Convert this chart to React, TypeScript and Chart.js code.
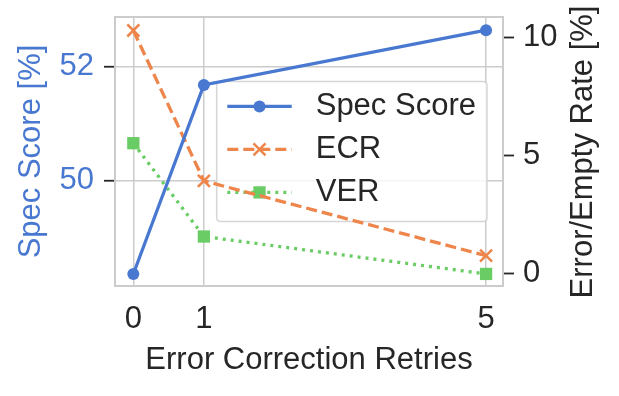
import React, { useEffect, useRef } from "react";
import { Chart, registerables } from "chart.js";
import { drawPoint } from "chart.js/helpers";

Chart.register(...registerables);

// ---- data ----
const retries = [0, 1, 5];
const specScore = [48.37, 51.68, 52.64];
const ecr = [10.28, 3.93, 0.77];
const ver = [5.52, 1.58, 0.0];
const xTickValues = [0, 1, 5];
const leftTickValues = [50, 52];
const rightTickValues = [0, 5, 10];

const BLUE = "#4878d0";
const ORANGE = "#ee854a";
const GREEN = "#6acc64";
const TEXT = "#262626";
const GRID = "#cccccc";
const FONT = "'Liberation Sans', Arial, Helvetica, sans-serif";
const FS = 31;

const zeroPadding = (s: any) => {
  s.paddingTop = 0;
  s.paddingBottom = 0;
  s.paddingLeft = 0;
  s.paddingRight = 0;
};

const framePlugin = {
  id: "frameAndLegend",
  beforeDatasetsDraw(chart: any) {
    const { ctx, chartArea: a } = chart;
    ctx.save();
    // plot frame
    ctx.strokeStyle = GRID;
    ctx.lineWidth = 2;
    ctx.strokeRect(a.left, a.top, a.right - a.left, a.bottom - a.top);

    // legend box
    const bx = a.left + 101.7;
    const by = a.top + 64.4;
    const bw = a.right - 16 - bx;
    const bh = 140;
    const r = 4;
    ctx.beginPath();
    ctx.moveTo(bx + r, by);
    ctx.lineTo(bx + bw - r, by);
    ctx.quadraticCurveTo(bx + bw, by, bx + bw, by + r);
    ctx.lineTo(bx + bw, by + bh - r);
    ctx.quadraticCurveTo(bx + bw, by + bh, bx + bw - r, by + bh);
    ctx.lineTo(bx + r, by + bh);
    ctx.quadraticCurveTo(bx, by + bh, bx, by + bh - r);
    ctx.lineTo(bx, by + r);
    ctx.quadraticCurveTo(bx, by, bx + r, by);
    ctx.closePath();
    ctx.fillStyle = "rgba(255,255,255,0.8)";
    ctx.fill();
    ctx.strokeStyle = "rgba(204,204,204,0.8)";
    ctx.lineWidth = 1.5;
    ctx.stroke();

    const datasets = chart.data.datasets;
    datasets.forEach((ds: any, i: number) => {
      const y = by + 25 + i * 43;
      const x0 = bx + 10.6;
      const x1 = bx + 75;
      ctx.save();
      ctx.beginPath();
      ctx.setLineDash(ds.borderDash || []);
      ctx.strokeStyle = ds.borderColor;
      ctx.lineWidth = ds.borderWidth;
      ctx.lineCap = "butt";
      ctx.moveTo(x0, y);
      ctx.lineTo(x1, y);
      ctx.stroke();
      ctx.setLineDash([]);
      ctx.fillStyle = ds.pointBackgroundColor;
      ctx.strokeStyle = ds.pointBorderColor;
      ctx.lineWidth = ds.pointBorderWidth;
      drawPoint(
        ctx,
        { pointStyle: ds.pointStyle, radius: ds.pointRadius, borderWidth: ds.pointBorderWidth, rotation: 0 } as any,
        (x0 + x1) / 2,
        y
      );
      ctx.restore();
      ctx.fillStyle = TEXT;
      ctx.font = `${FS}px ${FONT}`;
      ctx.textAlign = "left";
      ctx.textBaseline = "middle";
      ctx.fillText(ds.label, bx + 99, y);
    });
    ctx.restore();
  },
  afterDraw(chart: any) {
    const { ctx, chartArea: a } = chart;
    ctx.save();
    ctx.translate(583.5, (a.top + a.bottom) / 2 + 0.5);
    ctx.rotate(-Math.PI / 2);
    ctx.fillStyle = TEXT;
    ctx.font = `${FS}px ${FONT}`;
    ctx.textAlign = "center";
    ctx.textBaseline = "middle";
    ctx.fillText("Error/Empty Rate [%]", 0, 0);
    ctx.restore();
  },
};

export default function App() {
  const canvasRef = useRef<HTMLCanvasElement | null>(null);

  useEffect(() => {
    const canvas = canvasRef.current;
    if (!canvas) return;
    Chart.defaults.font.family = FONT;
    const chart = new Chart(canvas, {
      type: "line",
      data: {
        datasets: [
          {
            label: "Spec Score",
            data: retries.map((x, i) => ({ x, y: specScore[i] })),
            yAxisID: "y",
            borderColor: BLUE,
            backgroundColor: BLUE,
            borderWidth: 3.3,
            pointStyle: "circle",
            pointRadius: 6,
            pointBorderWidth: 0,
            pointBackgroundColor: BLUE,
            pointBorderColor: BLUE,
            tension: 0,
          },
          {
            label: "ECR",
            data: retries.map((x, i) => ({ x, y: ecr[i] })),
            yAxisID: "y1",
            borderColor: ORANGE,
            backgroundColor: ORANGE,
            borderWidth: 3.3,
            borderDash: [11, 5],
            pointStyle: "crossRot",
            pointRadius: 8.5,
            pointBorderWidth: 2.5,
            pointBackgroundColor: ORANGE,
            pointBorderColor: ORANGE,
            tension: 0,
          },
          {
            label: "VER",
            data: retries.map((x, i) => ({ x, y: ver[i] })),
            yAxisID: "y1",
            borderColor: GREEN,
            backgroundColor: GREEN,
            borderWidth: 3.3,
            borderDash: [3, 5],
            pointStyle: "rect",
            pointRadius: 8.7,
            pointBorderWidth: 0,
            pointBackgroundColor: GREEN,
            pointBorderColor: GREEN,
            tension: 0,
          },
        ] as any,
      },
      options: {
        responsive: false,
        animation: false,
        devicePixelRatio: 1,
        layout: { padding: { top: 17, left: 0, right: 0, bottom: 0 } },
        plugins: {
          legend: { display: false },
          tooltip: { enabled: false },
        },
        scales: {
          x: {
            type: "linear",
            position: "bottom",
            min: -0.26,
            max: 5.24,
            afterBuildTicks: (s: any) => {
              s.ticks = xTickValues.map((v) => ({ value: v }));
            },
            afterFit: (s: any) => {
              s.height = 110;
              zeroPadding(s);
            },
            grid: { color: GRID, lineWidth: 1.5, drawTicks: false },
            border: { display: false },
            ticks: {
              color: TEXT,
              font: { size: FS },
              padding: 15,
              autoSkip: false,
              maxRotation: 0,
              callback: (v: any) => String(v),
            },
            title: {
              display: true,
              text: "Error Correction Retries",
              color: TEXT,
              font: { size: FS },
              padding: { top: 0, bottom: 17 },
            },
          },
          y: {
            type: "linear",
            position: "left",
            min: 48.16,
            max: 52.87,
            afterBuildTicks: (s: any) => {
              s.ticks = leftTickValues.map((v) => ({ value: v }));
            },
            afterFit: (s: any) => {
              s.width = 115;
              zeroPadding(s);
            },
            grid: {
              color: GRID,
              lineWidth: 1.5,
              drawTicks: true,
              tickLength: 11,
              tickColor: TEXT,
              tickWidth: 1.8,
            },
            border: { display: false },
            ticks: {
              color: BLUE,
              font: { size: FS },
              padding: 10,
              callback: (v: any) => String(v),
            },
            title: {
              display: true,
              text: "Spec Score [%]",
              color: BLUE,
              font: { size: FS },
              padding: { top: 13, bottom: 0 },
            },
          },
          y1: {
            type: "linear",
            position: "right",
            min: -0.51,
            max: 10.85,
            afterBuildTicks: (s: any) => {
              s.ticks = rightTickValues.map((v) => ({ value: v }));
            },
            afterFit: (s: any) => {
              s.width = 116;
              zeroPadding(s);
            },
            grid: {
              drawOnChartArea: false,
              drawTicks: true,
              tickLength: 11,
              tickColor: TEXT,
              tickWidth: 1.8,
            },
            border: { display: false },
            ticks: {
              color: TEXT,
              font: { size: FS },
              padding: 9,
              callback: (v: any) => String(v),
            },
          },
        },
      } as any,
      plugins: [framePlugin],
    });
    return () => chart.destroy();
  }, []);

  return (
    <div style={{ position: "fixed", left: 0, top: 0, width: 619, height: 396, background: "#ffffff" }}>
      <canvas ref={canvasRef} width={619} height={396} />
    </div>
  );
}
